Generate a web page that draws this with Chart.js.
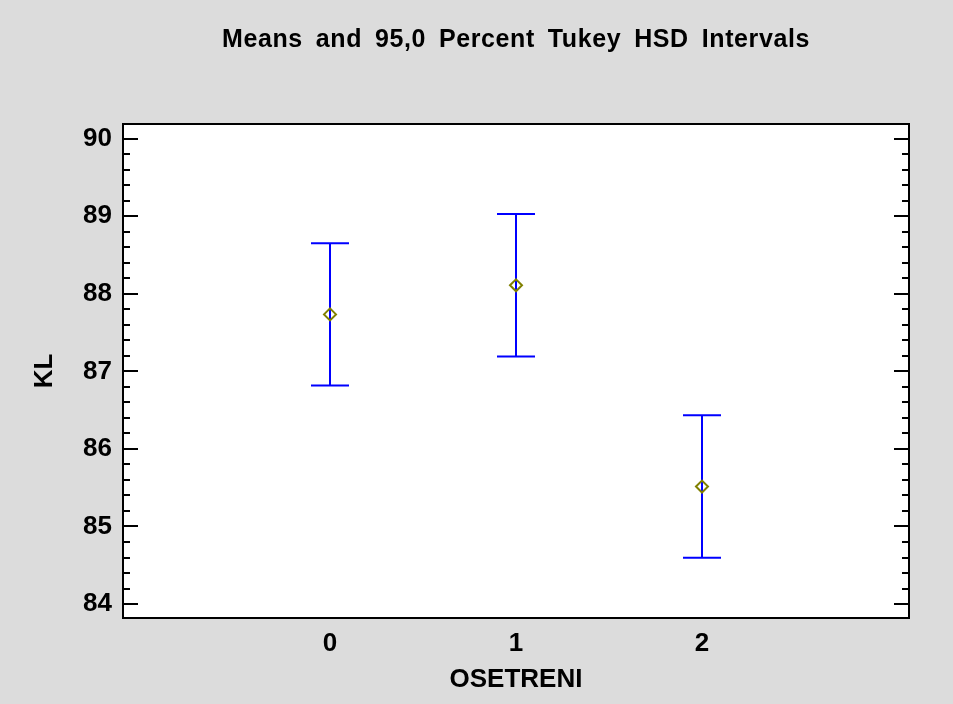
<!DOCTYPE html>
<html><head><meta charset="utf-8">
<script src="https://cdn.jsdelivr.net/npm/chart.js@4/dist/chart.umd.min.js"></script>
<style>html,body{margin:0;padding:0;background:#dcdcdc;overflow:hidden;}</style>
</head><body>
<canvas id="c" width="953" height="704"></canvas>
<script>
const chartTitle = 'Means and 95,0 Percent Tukey HSD Intervals';
const xAxisTitle = 'OSETRENI';
const yAxisTitle = 'KL';
const categories = ['0', '1', '2'];
const xPositions = [0, 1, 2];
const means = [87.735, 88.11, 85.515];
const lowerLimits = [86.817, 87.192, 84.597];
const upperLimits = [88.653, 89.028, 86.433];
const yTickValues = [84, 85, 86, 87, 88, 89, 90];
const yMinorStep = 0.2;
const xRange = [-1.113, 3.113];
const yRange = [83.82, 90.19];

Chart.defaults.font.family = "'Liberation Sans', Arial, sans-serif";
Chart.defaults.color = '#000';

const bgPlugin = {
  id: 'bg',
  beforeDraw(chart) {
    const {ctx, chartArea: a} = chart;
    ctx.save();
    ctx.fillStyle = '#dcdcdc';
    ctx.fillRect(0, 0, chart.width, chart.height);
    ctx.fillStyle = '#ffffff';
    ctx.fillRect(a.left, a.top, a.right - a.left, a.bottom - a.top);
    ctx.restore();
  }
};

const titleSpacingPlugin = {
  id: 'titleSpacing',
  afterLayout(chart) {
    const tb = chart.titleBlock;
    if (tb && !tb._spaced) {
      const orig = tb.draw;
      tb.draw = function (...args) {
        const ctx = chart.ctx;
        ctx.save();
        ctx.letterSpacing = '0.6px';
        ctx.wordSpacing = '5.4px';
        orig.apply(this, args);
        ctx.restore();
      };
      tb._spaced = true;
    }
  }
};

const errPlugin = {
  id: 'errbars',
  beforeDatasetsDraw(chart) {
    const {ctx} = chart;
    const xs = chart.scales.x, ys = chart.scales.y;
    const cap = 19;
    ctx.save();
    ctx.strokeStyle = '#0000ff';
    ctx.lineWidth = 2;
    xPositions.forEach((xv, i) => {
      const px = Math.round(xs.getPixelForValue(xv));
      const lo = ys.getPixelForValue(lowerLimits[i]);
      const hi = ys.getPixelForValue(upperLimits[i]);
      ctx.beginPath();
      ctx.moveTo(px, lo); ctx.lineTo(px, hi);
      ctx.moveTo(px - cap, hi); ctx.lineTo(px + cap, hi);
      ctx.moveTo(px - cap, lo); ctx.lineTo(px + cap, lo);
      ctx.stroke();
    });
    ctx.restore();
  }
};

const framePlugin = {
  id: 'frame',
  afterDatasetsDraw(chart) {
    const {ctx, chartArea: a} = chart;
    const ys = chart.scales.y;
    ctx.save();
    ctx.strokeStyle = '#000';
    ctx.lineWidth = 2;
    ctx.strokeRect(a.left, a.top, a.right - a.left, a.bottom - a.top);
    const first = yTickValues[0], last = yTickValues[yTickValues.length - 1];
    const n = Math.round((last - first) / yMinorStep);
    ctx.beginPath();
    for (let k = 0; k <= n; k++) {
      const v = first + k * yMinorStep;
      const major = k % Math.round(1 / yMinorStep) === 0;
      const len = major ? 15 : 7;
      const py = Math.round(ys.getPixelForValue(v));
      ctx.moveTo(a.left, py); ctx.lineTo(a.left + len, py);
      ctx.moveTo(a.right, py); ctx.lineTo(a.right - len, py);
    }
    ctx.stroke();
    ctx.restore();
  }
};

new Chart(document.getElementById('c'), {
  type: 'scatter',
  data: {
    datasets: [{
      data: means.map((m, i) => ({x: xPositions[i], y: m})),
      pointStyle: 'rectRot',
      radius: 6,
      borderColor: '#808000',
      borderWidth: 2,
      backgroundColor: 'rgba(0,0,0,0)',
      showLine: false
    }]
  },
  options: {
    responsive: false,
    animation: false,
    devicePixelRatio: 1,
    layout: {padding: {left: 0, right: 44, top: 0, bottom: 0}},
    plugins: {
      legend: {display: false},
      tooltip: {enabled: false},
      title: {
        display: true,
        text: chartTitle,
        fullSize: false,
        color: '#000',
        font: {size: 25, weight: 'bold'},
        padding: {top: 25, bottom: 69}
      }
    },
    scales: {
      x: {
        type: 'linear',
        min: xRange[0], max: xRange[1],
        afterBuildTicks: s => { s.ticks = xPositions.map(v => ({value: v})); },
        afterFit: s => { s.height = 86; },
        ticks: {
          callback: v => categories[xPositions.indexOf(v)],
          font: {size: 26, weight: 'bold'}, color: '#000',
          padding: 10, maxRotation: 0, autoSkip: false
        },
        grid: {display: false, drawTicks: false},
        border: {display: false},
        title: {display: true, text: xAxisTitle, color: '#000',
          font: {size: 26, weight: 'bold'}, padding: {top: 0, bottom: 9}}
      },
      y: {
        type: 'linear',
        min: yRange[0], max: yRange[1],
        afterBuildTicks: s => { s.ticks = yTickValues.map(v => ({value: v})); },
        afterFit: s => { s.width = 123; },
        ticks: {font: {size: 26, weight: 'bold'}, color: '#000', padding: 11},
        grid: {display: false, drawTicks: false},
        border: {display: false},
        title: {display: true, text: yAxisTitle, color: '#000',
          font: {size: 26, weight: 'bold'}, padding: {top: 29, bottom: 0}}
      }
    }
  },
  plugins: [bgPlugin, titleSpacingPlugin, errPlugin, framePlugin]
});
</script>
</body></html>
